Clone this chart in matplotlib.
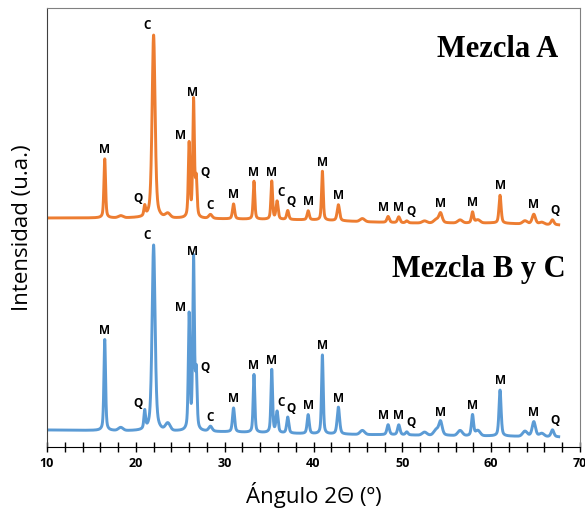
import numpy as np
import matplotlib
matplotlib.use("Agg")
import matplotlib.pyplot as plt
from matplotlib.ticker import MultipleLocator

# =====================================================
# DATA
# =====================================================

# labelled reflections: position (2theta) and phase
peak_angle = [16.5, 21.0, 22.0, 26.0, 26.5, 26.8, 28.4, 31.0, 33.3, 35.3, 35.9,
              37.1, 39.4, 41.0, 42.8, 48.4, 49.6, 50.5, 54.3, 57.9, 61.0, 64.8, 66.9]
peak_phase = ["M", "Q", "C", "M", "M", "Q", "C", "M", "M", "M", "C",
              "Q", "M", "M", "M", "M", "M", "Q", "M", "M", "M", "M", "Q"]
peak_fwhm = [0.22, 0.22, 0.4, 0.22, 0.22, 0.22, 0.45, 0.28, 0.22, 0.22, 0.28,
             0.28, 0.28, 0.22, 0.32, 0.32, 0.32, 0.32, 0.45, 0.28, 0.28, 0.45, 0.38]

# peak heights above baseline (arbitrary units)
height_a = [59, 10, 183, 74, 117, 37, 4, 15, 38, 38, 18,
            9, 9, 49, 16, 6, 6, 2, 10, 11, 28, 10, 5]
height_bc = [91, 18, 186, 115, 171, 55, 5, 24, 58, 63, 21,
             16, 19, 79, 27, 10, 10, 3, 14, 21, 46, 15, 7]

# small unlabelled bumps
minor_angle = [18.3, 23.6, 45.5, 52.5, 53.8, 56.5, 58.5, 63.8, 65.7]
minor_a = [2, 4, 3, 2, 3, 3, 3, 3, 2]
minor_bc = [3, 7, 4, 3, 5, 5, 5, 5, 3]

# baselines (already stacked)
base_angle = [10, 20, 30, 40, 50, 60, 67.6]
base_a = [229, 229, 228, 227, 224, 224, 222]
base_bc = [17, 16, 15, 13, 12, 11, 10]

# label nudges (points) for crowded peaks
label_dx = [0, -5, -5, -6, -1, 6, 0, 0, 0, 0, 3,
            2, 0, 0, 0, -3, 0, 3, 0, 0, 0, 0, 2]

ORANGE = "#ED7D31"
BLUE = "#5B9BD5"


def pattern(x, base, heights, minor):
    y = np.interp(x, base_angle, base)
    for a, h, w in zip(peak_angle, heights, peak_fwhm):
        g = w / 2
        y += h * (0.5 * g**2 / ((x - a)**2 + g**2) + 0.5 * np.exp(-np.log(2) * ((x - a) / g)**2))
    for a, h in zip(minor_angle, minor):
        g = 0.3
        y += h * np.exp(-np.log(2) * ((x - a) / g)**2)
    return y


x = np.linspace(10, 67.6, 6000)
y_a = pattern(x, base_a, height_a, minor_a)
y_bc = pattern(x, base_bc, height_bc, minor_bc)

# =====================================================
# PLOT
# =====================================================

fig = plt.figure(figsize=(5.85, 5.14), dpi=100)
ax = fig.add_axes([47 / 585, 1 - 447 / 514, 533 / 585, 439 / 514])

ax.plot(x, y_a, color=ORANGE, lw=2.1)
ax.plot(x, y_bc, color=BLUE, lw=2.1)

for y, heights, base in [(y_a, height_a, base_a), (y_bc, height_bc, base_bc)]:
    for a, h, ph, dx in zip(peak_angle, heights, peak_phase, label_dx):
        top = np.interp(a, base_angle, base) + h
        ax.annotate(ph, (a, top), xytext=(dx, 2), textcoords="offset points",
                    ha="center", va="bottom", fontsize=8.5, fontweight="bold",
                    family="Open Sans")

ax.text(0.845, 0.905, "Mezcla A", transform=ax.transAxes, ha="center", va="center",
        fontsize=22, fontweight="bold", family="Liberation Serif")
ax.text(0.81, 0.405, "Mezcla B y C", transform=ax.transAxes, ha="center", va="center",
        fontsize=22, fontweight="bold", family="Liberation Serif")

ax.set_xlim(10, 70)
ax.set_ylim(0, 439)
ax.set_yticks([])
ax.xaxis.set_major_locator(MultipleLocator(10))
ax.xaxis.set_minor_locator(MultipleLocator(2))
ax.tick_params(axis="x", which="both", direction="inout", length=7, width=1)
ax.tick_params(axis="x", which="major", pad=4)
for lab in ax.get_xticklabels():
    lab.set_fontweight("bold")
    lab.set_fontsize(9)
    lab.set_family("Open Sans")

for s in ["top", "right"]:
    ax.spines[s].set_color("#808080")
ax.spines["left"].set_color("#404040")

ax.set_xlabel("Ángulo 2Θ (º)", fontsize=16, family="Open Sans", labelpad=8)
ax.set_ylabel("Intensidad (u.a.)", fontsize=16, family="Open Sans", labelpad=10)

plt.savefig("out.png", dpi=100)
